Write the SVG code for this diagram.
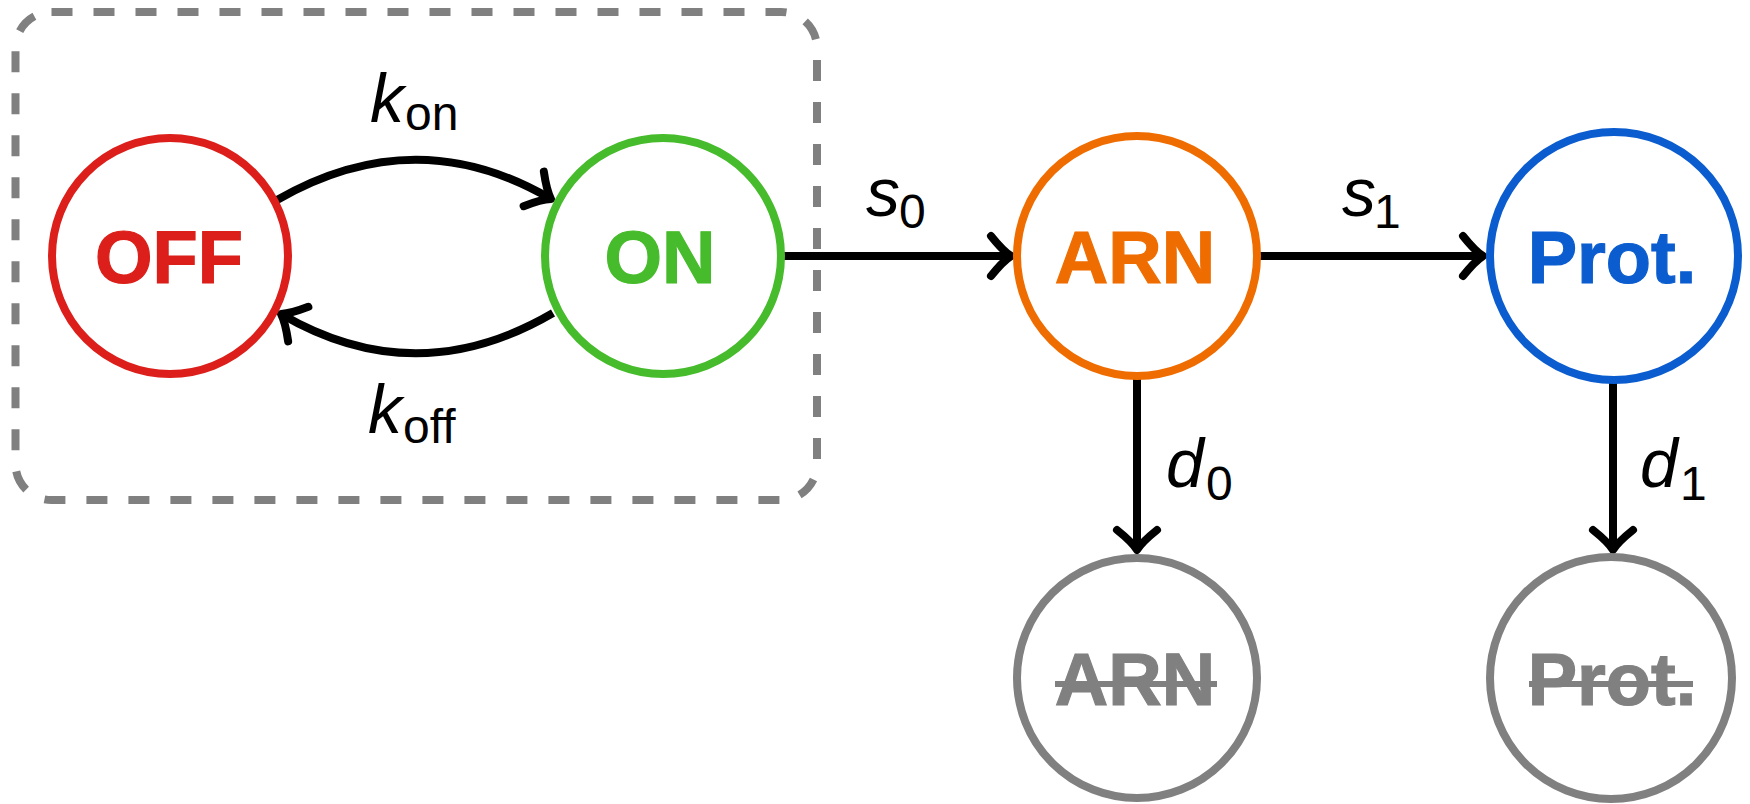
<svg xmlns="http://www.w3.org/2000/svg" width="1750" height="804" viewBox="0 0 1750 804">
<style>
.node{fill:none;stroke-width:8}
.lbl{font-family:"Liberation Sans",Arial,sans-serif;font-weight:bold;font-size:74px;text-anchor:middle;stroke-width:1.2}
.math{font-family:"Liberation Sans",Arial,sans-serif;font-style:italic;font-size:68px;fill:#000}
.sub{font-family:"Liberation Sans",Arial,sans-serif;font-style:normal;font-size:48px;fill:#000}
.edge{fill:none;stroke:#000;stroke-width:8}
.strike{stroke:#808080;stroke-width:6}
</style>
<defs>
<marker id="arr" markerUnits="userSpaceOnUse" markerWidth="60" markerHeight="60" viewBox="-30 -30 60 60" refX="0" refY="0" orient="auto" overflow="visible">
<path d="M -20 -20 Q -8 -5 0 0 Q -8 5 -20 20" fill="none" stroke="#000" stroke-width="8" stroke-linecap="round" stroke-linejoin="round"/>
</marker>
</defs>
<rect id="promoter-box" x="15.5" y="12" width="801.5" height="488" rx="36" ry="36" fill="none" stroke="#808080" stroke-width="8" stroke-dasharray="21 21"/>
<g id="connectors">
<path class="edge" d="M 277 200 Q 416 120 551 199" marker-end="url(#arr)"/>
<path class="edge" d="M 553 313 Q 416 393 281 314" marker-end="url(#arr)"/>
<path class="edge" d="M 783 256 L 1011 256" marker-end="url(#arr)"/>
<path class="edge" d="M 1259 256 L 1483 256" marker-end="url(#arr)"/>
<path class="edge" d="M 1137 378 L 1137 550" marker-end="url(#arr)"/>
<path class="edge" d="M 1613 383 L 1613 550" marker-end="url(#arr)"/>
<text x="370" y="122" class="math">k<tspan class="sub" x="405" y="130">on</tspan></text>
<text x="368" y="433" class="math">k<tspan class="sub" x="403" y="443">off</tspan></text>
<text x="866" y="216" class="math">s<tspan class="sub" x="899" y="228">0</tspan></text>
<text x="1342" y="216" class="math">s<tspan class="sub" x="1374" y="228">1</tspan></text>
<text x="1166" y="487" class="math">d<tspan class="sub" x="1206" y="500">0</tspan></text>
<text x="1640" y="487" class="math">d<tspan class="sub" x="1680" y="500">1</tspan></text>
</g>
<g id="off">
<circle class="node" cx="170" cy="256" r="118" stroke="#dc1f1a"/>
<text class="lbl" x="169" y="283" fill="#dc1f1a" stroke="#dc1f1a">OFF</text>
</g>
<g id="on">
<circle class="node" cx="663" cy="256" r="118" stroke="#46bb2b"/>
<text class="lbl" x="660" y="283" fill="#46bb2b" stroke="#46bb2b">ON</text>
</g>
<g id="arn">
<circle class="node" cx="1137" cy="256" r="120" stroke="#ef6d00"/>
<text class="lbl" x="1135" y="283" fill="#ef6d00" stroke="#ef6d00">ARN</text>
</g>
<g id="prot">
<circle class="node" cx="1614" cy="256" r="124" stroke="#0b5dcf"/>
<text class="lbl" x="1612" y="283" fill="#0b5dcf" stroke="#0b5dcf">Prot.</text>
</g>
<g id="arn-degraded">
<circle class="node" cx="1137" cy="678" r="120" stroke="#808080"/>
<text class="lbl" x="1135" y="705" fill="#808080" stroke="#808080">ARN</text>
<line class="strike" x1="1055" y1="684" x2="1217" y2="684"/>
</g>
<g id="prot-degraded">
<circle class="node" cx="1611" cy="678" r="121" stroke="#808080"/>
<text class="lbl" x="1612" y="705" fill="#808080" stroke="#808080">Prot.</text>
<line class="strike" x1="1529" y1="684" x2="1693" y2="684"/>
</g>
</svg>
